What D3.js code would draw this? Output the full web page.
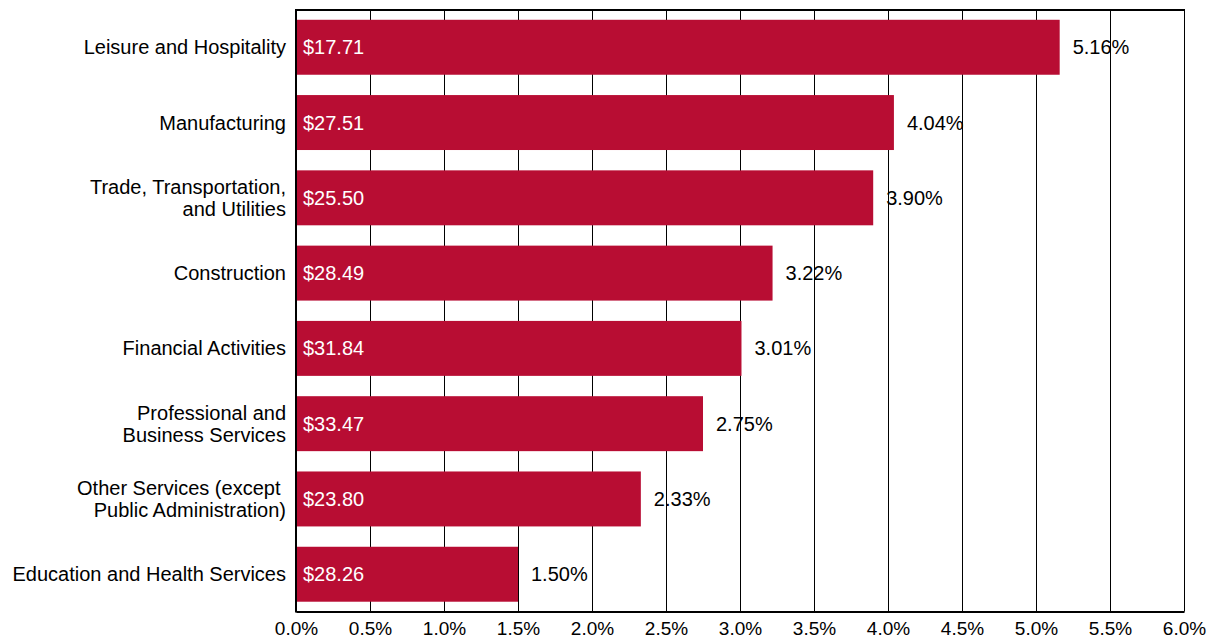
<!DOCTYPE html>
<html>
<head>
<meta charset="utf-8">
<script src="https://cdn.jsdelivr.net/npm/d3@7"></script>
<style>
  body { margin: 0; background: #fff; }
  text { font-family: "Liberation Sans", Arial, Helvetica, sans-serif; }
</style>
</head>
<body>
<svg width="1217" height="636"></svg>
<script>
// industries, top to bottom
var categories = [
  ["Leisure and Hospitality"],
  ["Manufacturing"],
  ["Trade, Transportation,", "and Utilities"],
  ["Construction"],
  ["Financial Activities"],
  ["Professional and", "Business Services"],
  ["Other Services (except ", "Public Administration)"],
  ["Education and Health Services"]
];
var growth = [5.16, 4.04, 3.90, 3.22, 3.01, 2.75, 2.33, 1.50];
var wages = ["$17.71", "$27.51", "$25.50", "$28.49", "$31.84", "$33.47", "$23.80", "$28.26"];
var xTicks = [0, 0.5, 1, 1.5, 2, 2.5, 3, 3.5, 4, 4.5, 5, 5.5, 6];

var plotLeft = 296, plotRight = 1184, plotTop = 10, plotBottom = 611.5;
var barColor = "#b80d33";
var fontSize = "20px";

var svg = d3.select("svg");

var x = d3.scaleLinear().domain([0, 6]).range([plotLeft, plotRight]);
var y = d3.scaleBand()
    .domain(d3.range(categories.length))
    .range([plotTop, plotBottom])
    .paddingInner(0.27)
    .paddingOuter(0.13);

// gridlines
svg.append("g")
  .selectAll("line")
  .data(xTicks.slice(1))
  .join("line")
    .attr("x1", d => Math.round(x(d)) + 0.5)
    .attr("x2", d => Math.round(x(d)) + 0.5)
    .attr("y1", plotTop)
    .attr("y2", plotBottom)
    .attr("stroke", "#000")
    .attr("stroke-width", 1);

// top border
svg.append("line")
    .attr("x1", plotLeft).attr("x2", plotRight + 1)
    .attr("y1", plotTop).attr("y2", plotTop)
    .attr("stroke", "#000").attr("stroke-width", 2);

// bars
svg.append("g")
  .selectAll("rect")
  .data(growth)
  .join("rect")
    .attr("x", x(0))
    .attr("y", (d, i) => y(i))
    .attr("width", d => x(d) - x(0))
    .attr("height", y.bandwidth())
    .attr("fill", barColor);

// wage labels inside bars
svg.append("g")
  .selectAll("text")
  .data(wages)
  .join("text")
    .attr("x", x(0) + 7)
    .attr("y", (d, i) => y(i) + y.bandwidth() / 2)
    .attr("dy", "0.35em")
    .attr("fill", "#fff")
    .attr("font-size", fontSize)
    .text(d => d);

// percent labels
svg.append("g")
  .selectAll("text")
  .data(growth)
  .join("text")
    .attr("x", d => x(d) + 13)
    .attr("y", (d, i) => y(i) + y.bandwidth() / 2)
    .attr("dy", "0.35em")
    .attr("fill", "#000")
    .attr("font-size", fontSize)
    .text(d => d.toFixed(2) + "%");

// category labels
var cat = svg.append("g")
  .selectAll("text")
  .data(categories)
  .join("text")
    .attr("text-anchor", "end")
    .attr("font-size", fontSize)
    .attr("fill", "#000")
    .style("white-space", "pre");

cat.each(function(lines, i) {
  var cy = y(i) + y.bandwidth() / 2;
  var lh = 22;
  var y0 = cy - (lines.length - 1) * lh / 2;
  d3.select(this).selectAll("tspan")
    .data(lines)
    .join("tspan")
      .attr("x", plotLeft - 10)
      .attr("y", (d, j) => y0 + j * lh)
      .attr("dy", "0.35em")
      .text(d => d);
});

// x axis
var xAxis = d3.axisBottom(x)
    .tickValues(xTicks)
    .tickSize(0)
    .tickPadding(10)
    .tickFormat(d => d.toFixed(1) + "%");

var gx = svg.append("g")
    .attr("transform", "translate(0," + plotBottom + ")")
    .call(xAxis);
gx.select(".domain").attr("stroke", "#000").attr("stroke-width", 2);
gx.selectAll("text")
    .attr("font-size", "19px")
    .attr("font-family", "Liberation Sans, Arial, sans-serif")
    .attr("fill", "#000");

// left axis line
svg.append("line")
    .attr("x1", plotLeft).attr("x2", plotLeft)
    .attr("y1", plotTop - 1).attr("y2", plotBottom + 1)
    .attr("stroke", "#000").attr("stroke-width", 2);
</script>
</body>
</html>
